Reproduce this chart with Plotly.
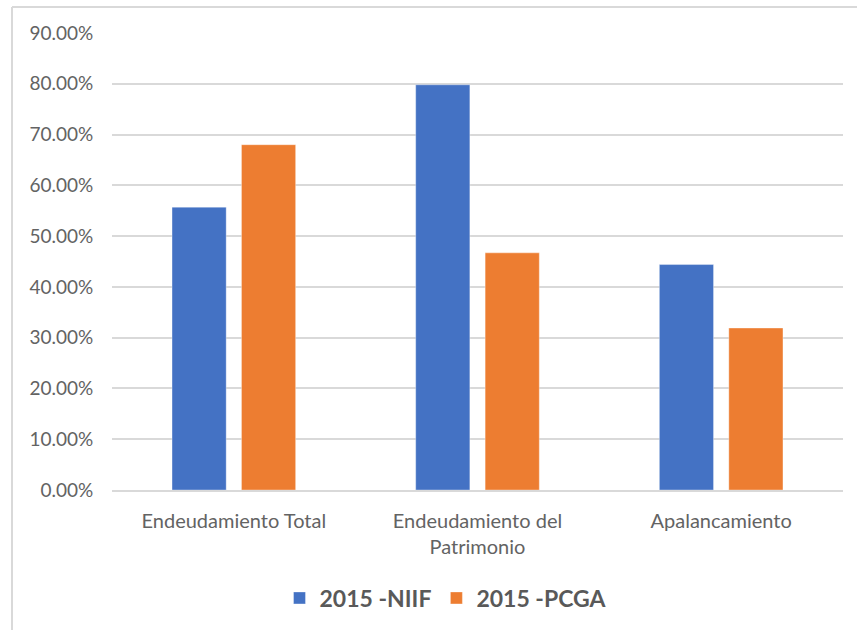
import plotly.graph_objects as go

categories = ["Endeudamiento Total", "Endeudamiento del<br>Patrimonio", "Apalancamiento"]
niif = [0.557, 0.798, 0.444]
pcga = [0.680, 0.467, 0.319]
series_names = ["2015 -NIIF", "2015 -PCGA"]
colors = ["#4472C4", "#ED7D31"]
tick_vals = [i / 10 for i in range(10)]
tick_text = ["%.2f%%" % (v * 100) for v in tick_vals]

W, H = 857, 630
ml, mr, mt, mb = 112, 14, 33, 139
pw, ph = W - ml - mr, H - mt - mb

fig = go.Figure()
for name, vals, c in zip(series_names, [niif, pcga], colors):
    fig.add_trace(go.Bar(
        x=categories, y=vals, name=name,
        marker=dict(color=c, line=dict(color="rgba(255,255,255,0.35)", width=1)),
    ))

def px_x(p):
    return (p - ml) / pw

def px_y(p):
    return (H - mb - p) / ph

border = "#d9d9d9"
fig.add_shape(type="line", xref="paper", yref="paper",
              x0=px_x(12), x1=px_x(W + 5), y0=px_y(7), y1=px_y(7),
              line=dict(color=border, width=2))
fig.add_shape(type="line", xref="paper", yref="paper",
              x0=px_x(12), x1=px_x(12), y0=px_y(7), y1=px_y(H + 5),
              line=dict(color=border, width=2))

fig.update_layout(
    width=W, height=H,
    margin=dict(l=ml, r=mr, t=mt, b=mb),
    paper_bgcolor="white", plot_bgcolor="white",
    barmode="group", bargap=0.43, bargroupgap=0.22,
    font=dict(family="Lato, Open Sans, sans-serif", color="#595959", size=20),
    showlegend=True,
    legend=dict(orientation="h", x=px_x(446), xanchor="center",
                y=px_y(598), yanchor="middle",
                font=dict(size=23, color="#595959", family="Lato, sans-serif", weight="bold"),
                itemwidth=30, traceorder="normal"),
    xaxis=dict(showgrid=False, showline=True, linecolor="#d9d9d9", linewidth=1.5,
               ticks="outside", ticklen=12, tickcolor="rgba(0,0,0,0)",
               tickfont=dict(size=20, color="#636363")),
    yaxis=dict(range=[0, 0.9], tickvals=tick_vals, ticktext=tick_text,
               showgrid=True, gridcolor="#d9d9d9", gridwidth=1.5,
               zeroline=False, showline=False,
               ticks="outside", ticklen=14, tickcolor="rgba(0,0,0,0)",
               tickfont=dict(size=19, color="#636363")),
)

fig.write_html("out.html")
